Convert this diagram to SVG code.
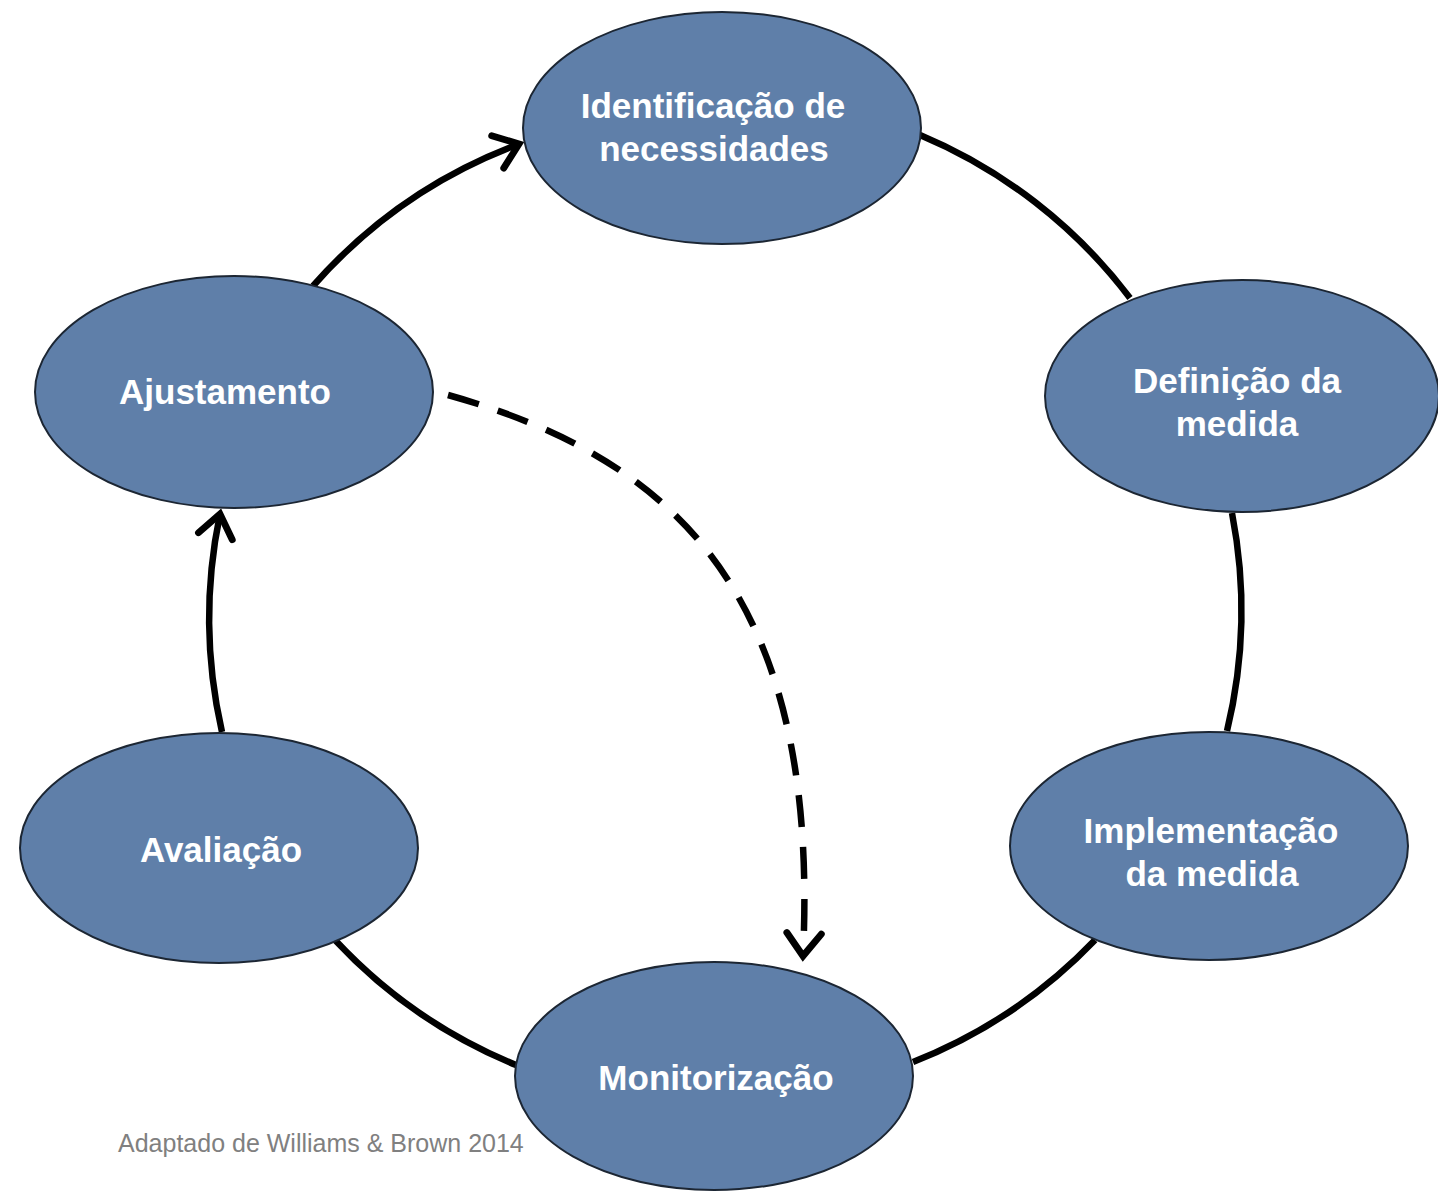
<svg xmlns="http://www.w3.org/2000/svg" width="1438" height="1192" viewBox="0 0 1438 1192">
  <defs>
    <style>
      .node ellipse { fill: #5f7fa9; stroke: #1c2633; stroke-width: 2; }
      .node text { font-family: "Liberation Sans", Arial, sans-serif; font-weight: bold; font-size: 35px; fill: #ffffff; text-anchor: middle; }
      .link { fill: none; stroke: #000000; stroke-width: 6.5; }
      .dashed { stroke-dasharray: 32 20; }
      .caption { font-family: "Liberation Sans", Arial, sans-serif; font-size: 25px; fill: #808080; }
    </style>
    <marker id="chevron" markerUnits="userSpaceOnUse" orient="auto" overflow="visible" refX="0" refY="0" markerWidth="40" markerHeight="40" viewBox="-40 -20 44 40">
      <path d="M-25 -19 L0 0 L-25 19" fill="none" stroke="#000000" stroke-width="7.5" stroke-dasharray="none" stroke-linejoin="miter" stroke-linecap="round"/>
    </marker>
  </defs>

  <rect width="1438" height="1192" fill="#ffffff"/>

  <!-- cycle connectors -->
  <g id="connectors">
    <path class="link" d="M920 135 A 512 512 0 0 1 1130 298"/>
    <path class="link" d="M1232 513 A 512 512 0 0 1 1227 731"/>
    <path class="link" d="M1095 940 A 512 512 0 0 1 913 1062"/>
    <path class="link" d="M516 1065 A 512 512 0 0 1 335 940"/>
    <path class="link" d="M222 732 A 512 512 0 0 1 220 514" marker-end="url(#chevron)"/>
    <path class="link" d="M313 286 A 512 512 0 0 1 519 144" marker-end="url(#chevron)"/>
    <path class="link dashed" d="M448 395 C 680 460, 820 600, 803 956" marker-end="url(#chevron)"/>
  </g>

  <g id="node-identificacao" class="node">
    <ellipse cx="722" cy="128" rx="199" ry="116"/>
    <text x="713" y="118">Identificação de</text>
    <text x="714" y="161">necessidades</text>
  </g>

  <g id="node-definicao" class="node">
    <ellipse cx="1242" cy="396" rx="197" ry="116"/>
    <text x="1237" y="393">Definição da</text>
    <text x="1237" y="436">medida</text>
  </g>

  <g id="node-implementacao" class="node">
    <ellipse cx="1209" cy="846" rx="199" ry="114"/>
    <text x="1211" y="843">Implementação</text>
    <text x="1212" y="886">da medida</text>
  </g>

  <g id="node-monitorizacao" class="node">
    <ellipse cx="714" cy="1076" rx="199" ry="114"/>
    <text x="716" y="1090">Monitorização</text>
  </g>

  <g id="node-avaliacao" class="node">
    <ellipse cx="219" cy="848" rx="199" ry="115"/>
    <text x="221" y="862">Avaliação</text>
  </g>

  <g id="node-ajustamento" class="node">
    <ellipse cx="234" cy="392" rx="199" ry="116"/>
    <text x="225" y="404">Ajustamento</text>
  </g>

  <text class="caption" x="118" y="1152">Adaptado de Williams &amp; Brown 2014</text>
</svg>
